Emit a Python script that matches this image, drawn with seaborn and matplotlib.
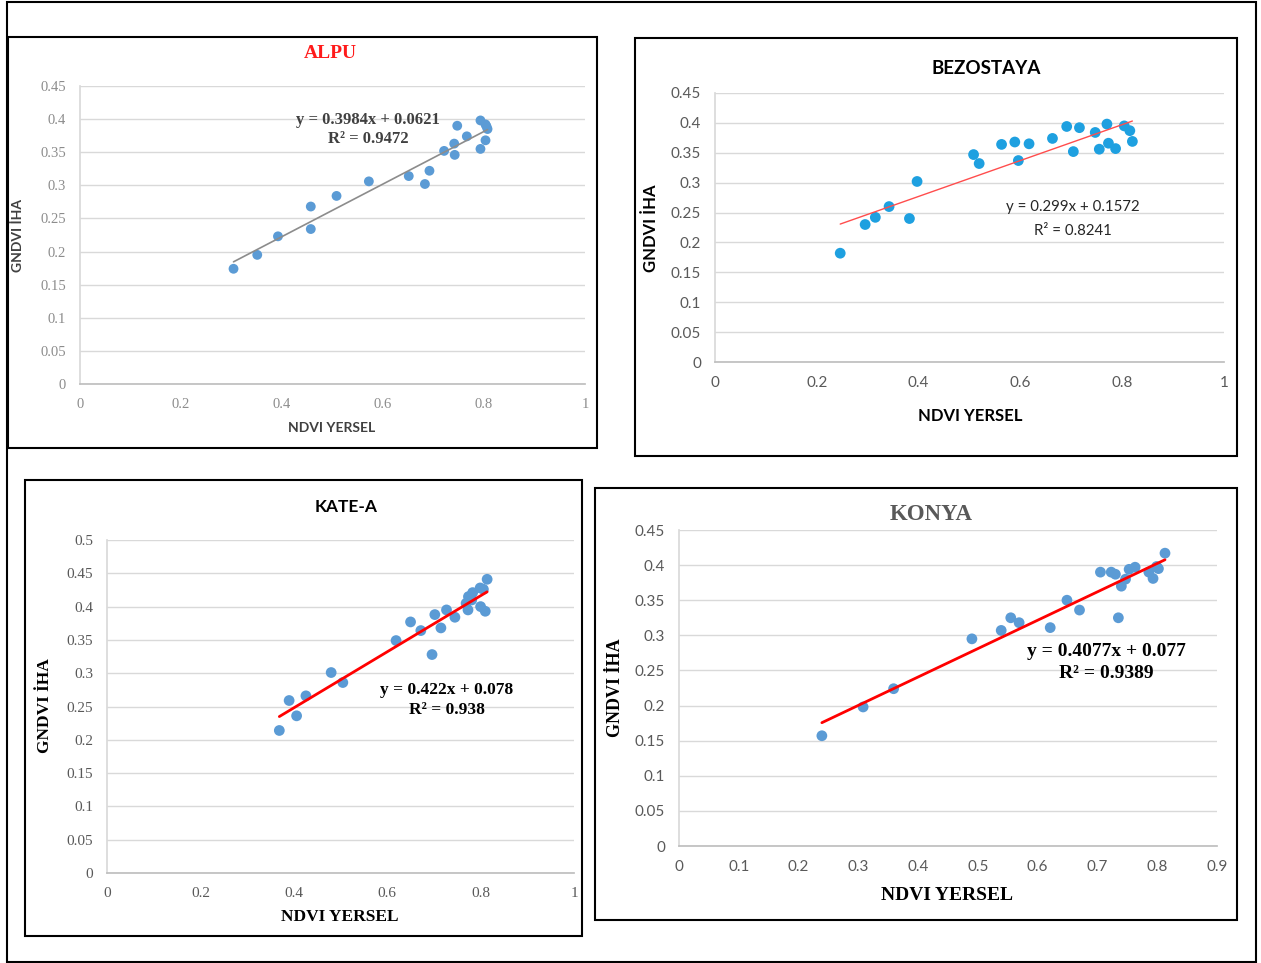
import numpy as np
import pandas as pd
import seaborn as sns
import matplotlib.pyplot as plt
from matplotlib.patches import Rectangle
from matplotlib.ticker import FuncFormatter

# values
alpu_x = [0.304, 0.351, 0.392, 0.457, 0.457, 0.508, 0.572, 0.651, 0.683, 0.692, 0.721,
          0.741, 0.742, 0.747, 0.766, 0.793, 0.793, 0.803, 0.807, 0.803, 0.805]
alpu_y = [0.174, 0.195, 0.223, 0.268, 0.234, 0.284, 0.306, 0.314, 0.302, 0.322, 0.352,
          0.363, 0.346, 0.390, 0.374, 0.398, 0.355, 0.392, 0.385, 0.368, 0.389]

bezo_x = [0.246, 0.295, 0.315, 0.342, 0.382, 0.397, 0.508, 0.519, 0.563, 0.589, 0.596, 0.617,
          0.663, 0.691, 0.716, 0.704, 0.747, 0.755, 0.770, 0.773, 0.787, 0.804, 0.815, 0.820]
bezo_y = [0.182, 0.230, 0.242, 0.260, 0.240, 0.302, 0.347, 0.332, 0.364, 0.368, 0.337, 0.365,
          0.374, 0.394, 0.392, 0.352, 0.384, 0.356, 0.398, 0.366, 0.357, 0.395, 0.387, 0.369]

kate_x = [0.369, 0.390, 0.406, 0.426, 0.480, 0.505, 0.619, 0.650, 0.672, 0.696, 0.702, 0.715,
          0.727, 0.745, 0.769, 0.773, 0.774, 0.783, 0.781, 0.799, 0.806, 0.800, 0.810, 0.814]
kate_y = [0.214, 0.259, 0.236, 0.266, 0.301, 0.286, 0.349, 0.377, 0.364, 0.328, 0.388, 0.368,
          0.395, 0.384, 0.405, 0.395, 0.415, 0.421, 0.410, 0.428, 0.426, 0.400, 0.393, 0.441]

konya_x = [0.239, 0.308, 0.359, 0.490, 0.539, 0.555, 0.569, 0.621, 0.649, 0.670, 0.705, 0.723,
           0.730, 0.735, 0.740, 0.747, 0.753, 0.763, 0.786, 0.793, 0.799, 0.802, 0.813]
konya_y = [0.157, 0.198, 0.224, 0.295, 0.307, 0.325, 0.318, 0.311, 0.350, 0.336, 0.390, 0.390,
           0.387, 0.325, 0.370, 0.380, 0.394, 0.397, 0.390, 0.381, 0.398, 0.395, 0.417]

W, H = 1261, 963
SERIF = ['Liberation Serif', 'DejaVu Serif']
SANS = ['Lato', 'DejaVu Sans']

sns.set_theme(style='white')
fig = plt.figure(figsize=(W / 100, H / 100), dpi=100)


def box(x0, y0, x1, y1, lw=1.5):
    fig.patches.append(Rectangle((x0 / W, 1 - y1 / H), (x1 - x0) / W, (y1 - y0) / H,
                                 transform=fig.transFigure, fill=False, ec='black', lw=lw))


def ftext(x, y, s, **kw):
    fig.text(x / W, 1 - y / H, s, ha='center', va='center', **kw)


fmt = FuncFormatter(lambda v, p: f'{v:.2f}'.rstrip('0').rstrip('.') if v != 0 else '0')


def panel(l, r, t, b, x, y, xmax, xstep, ymax, ystep, dot, s, line_c, line_w,
          tick_fam, tick_size, tick_col):
    ax = fig.add_axes([l / W, 1 - b / H, (r - l) / W, (b - t) / H])
    df = pd.DataFrame({'x': x, 'y': y})
    sns.scatterplot(data=df, x='x', y='y', ax=ax, color=dot, s=s, edgecolor='none', zorder=3)
    sns.regplot(data=df, x='x', y='y', ax=ax, scatter=False, ci=None, truncate=True,
                line_kws={'color': line_c, 'lw': line_w, 'zorder': 4})
    ax.set_xlim(0, xmax)
    ax.set_ylim(0, ymax)
    ax.set_xticks(np.round(np.arange(0, xmax + 1e-9, xstep), 3))
    ax.set_yticks(np.round(np.arange(0, ymax + 1e-9, ystep), 3))
    ax.xaxis.set_major_formatter(fmt)
    ax.yaxis.set_major_formatter(fmt)
    ax.grid(axis='y', color='#d9d9d9', lw=1)
    ax.set_axisbelow(True)
    for side in ['top', 'right']:
        ax.spines[side].set_visible(False)
    ax.spines['left'].set_color('#d9d9d9')
    ax.spines['bottom'].set_color('#bfbfbf')
    ax.tick_params(length=0, pad=10, labelsize=tick_size, labelcolor=tick_col)
    for lab in ax.get_xticklabels() + ax.get_yticklabels():
        lab.set_family(tick_fam)
    ax.set_xlabel('')
    ax.set_ylabel('')
    return ax


# outer frame and panel frames
box(7, 2, 1256, 962)
box(8, 37, 597, 448)
box(635, 38, 1237, 456)
box(25, 480, 582, 936)
box(595, 488, 1237, 920)

# ALPU
panel(80, 585, 86, 384, alpu_x, alpu_y, 1, 0.2, 0.45, 0.05, '#5B9BD5', 50,
      '#8c8c8c', 1.2, SERIF, 10.5, '#8c8c8c')
ftext(330, 54, 'ALPU', color='#ff1a1a', fontsize=14, fontweight='bold', family=SERIF)
ftext(368, 120, 'y = 0.3984x + 0.0621', fontsize=12, fontweight='bold', family=SERIF, color='#404040')
ftext(368, 139, 'R² = 0.9472', fontsize=12, fontweight='bold', family=SERIF, color='#404040')
ftext(332, 428, 'NDVI YERSEL', fontsize=10, fontweight='bold', family=SANS, color='#404040')
ftext(18, 235, 'GNDVI İHA', fontsize=10, fontweight='bold', family=SANS, color='#404040', rotation=90)

# BEZOSTAYA
panel(715, 1224, 93, 362, bezo_x, bezo_y, 1, 0.2, 0.45, 0.05, '#1EA0E0', 60,
      '#ff4d4d', 1.0, SANS, 11, '#595959')
ftext(986, 69, 'BEZOSTAYA', fontsize=13.5, fontweight='bold', family=SANS, color='black')
ftext(1073, 207, 'y = 0.299x + 0.1572', fontsize=10.8, family=SANS, color='#262626')
ftext(1073, 231, 'R² = 0.8241', fontsize=10.8, family=SANS, color='#262626')
ftext(970, 416, 'NDVI YERSEL', fontsize=12, fontweight='bold', family=SANS, color='black')
ftext(651, 228, 'GNDVI İHA', fontsize=12, fontweight='bold', family=SANS, color='black', rotation=90)

# KATE-A
panel(107, 574, 540, 873, kate_x, kate_y, 1, 0.2, 0.5, 0.05, '#5B9BD5', 60,
      'red', 2.0, SERIF, 11, '#595959')
ftext(346, 507, 'KATE-A', fontsize=12.5, fontweight='bold', family=SANS, color='black')
ftext(447, 690, 'y = 0.422x + 0.078', fontsize=12.5, fontweight='bold', family=SERIF, color='black')
ftext(447, 710, 'R² = 0.938', fontsize=12.5, fontweight='bold', family=SERIF, color='black')
ftext(340, 917, 'NDVI YERSEL', fontsize=12.5, fontweight='bold', family=SERIF, color='black')
ftext(45, 706, 'GNDVI İHA', fontsize=12.5, fontweight='bold', family=SERIF, color='black', rotation=90)

# KONYA
panel(679, 1217, 530, 846, konya_x, konya_y, 0.9, 0.1, 0.45, 0.05, '#5B9BD5', 60,
      'red', 2.0, SANS, 11, '#595959')
ftext(931, 515, 'KONYA', fontsize=16.5, fontweight='bold', family=SERIF, color='#595959')
ftext(1106, 651, 'y = 0.4077x + 0.077', fontsize=14, fontweight='bold', family=SERIF, color='black')
ftext(1106, 673, 'R² = 0.9389', fontsize=14, fontweight='bold', family=SERIF, color='black')
ftext(947, 895, 'NDVI YERSEL', fontsize=14, fontweight='bold', family=SERIF, color='black')
ftext(615, 688, 'GNDVI İHA', fontsize=13, fontweight='bold', family=SERIF, color='black', rotation=90)

fig.savefig('out.png', dpi=100, facecolor='white')
